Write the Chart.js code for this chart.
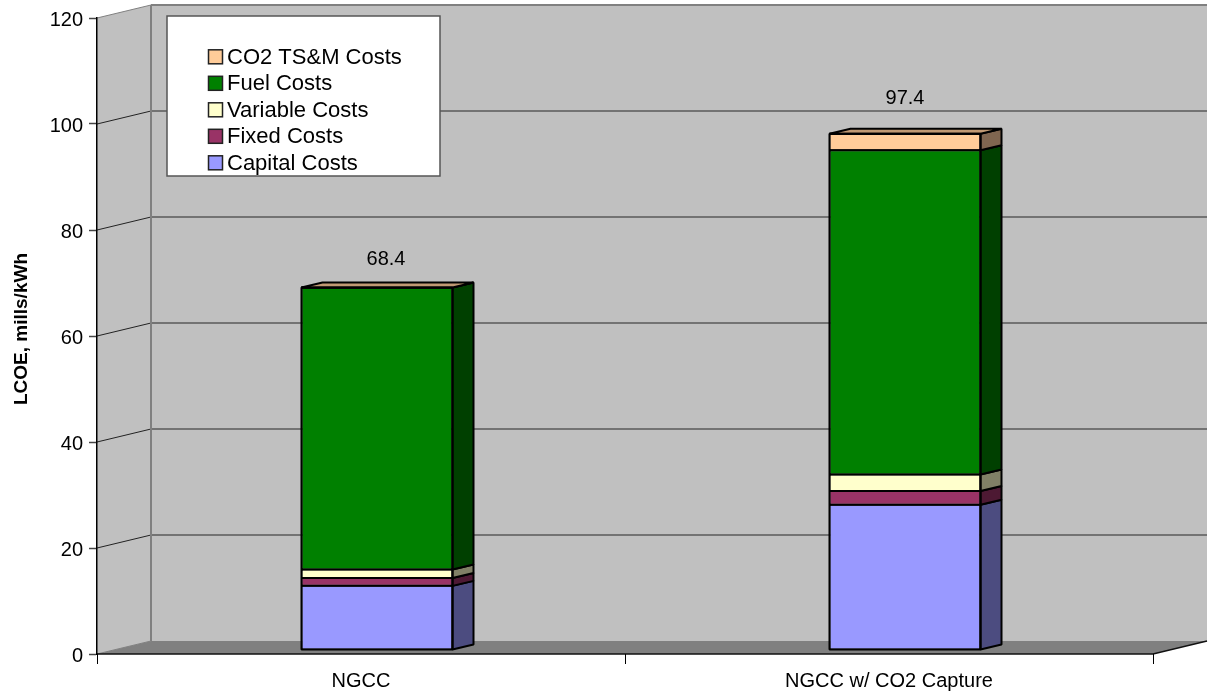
<!DOCTYPE html>
<html>
<head>
<meta charset="utf-8">
<style>
  html, body { margin: 0; padding: 0; background: #fff; }
  canvas { display: block; }
</style>
<script src="https://cdn.jsdelivr.net/npm/chart.js@4"></script>
</head>
<body>
<canvas id="myChart" width="1208" height="694"></canvas>
<script>
const categories = ["NGCC", "NGCC w/ CO2 Capture"];
const capitalCosts = [12.1, 27.4];
const fixedCosts = [1.5, 2.6];
const variableCosts = [1.6, 3.1];
const fuelCosts = [53.2, 61.2];
const co2Costs = [0, 3.1];
const totals = [68.4, 97.4];

const seriesNames = ["Capital Costs", "Fixed Costs", "Variable Costs", "Fuel Costs", "CO2 TS&M Costs"];
const seriesValues = [capitalCosts, fixedCosts, variableCosts, fuelCosts, co2Costs];
const frontColors = ["#9999FF", "#993366", "#FFFFCC", "#008000", "#FFCC99"];
const sideColors = ["#4C4C80", "#4D1933", "#808066", "#004000", "#806650"];
const topColor = "#C09973";

const FONT = '"Liberation Sans", Arial, sans-serif';

// depth of the box and of the bars, in pixels
const wallDx = 54, wallDy = -13;
const barShiftX = 16, barShiftY = -4;
const barDx = 21, barDy = -5;

const walls = {
  id: "walls",
  beforeDraw(chart) {
    const ctx = chart.ctx;
    const y = chart.scales.y;
    const a = chart.chartArea;
    const top = y.getPixelForValue(120), bottom = y.getPixelForValue(0);

    ctx.save();
    // back wall
    ctx.fillStyle = "#C0C0C0";
    ctx.fillRect(a.left + wallDx, top + wallDy, a.right - a.left, bottom - top);
    // left wall
    ctx.beginPath();
    ctx.moveTo(a.left, top);
    ctx.lineTo(a.left + wallDx, top + wallDy);
    ctx.lineTo(a.left + wallDx, bottom + wallDy);
    ctx.lineTo(a.left, bottom);
    ctx.closePath();
    ctx.fill();
    // floor
    ctx.fillStyle = "#808080";
    ctx.beginPath();
    ctx.moveTo(a.left, bottom);
    ctx.lineTo(a.left + wallDx, bottom + wallDy);
    ctx.lineTo(a.right + wallDx, bottom + wallDy);
    ctx.lineTo(a.right, bottom);
    ctx.closePath();
    ctx.fill();

    // grid lines, on both walls
    y.ticks.forEach((t) => {
      const py = y.getPixelForValue(t.value);
      ctx.strokeStyle = t.value > 0 && t.value < 120 ? "#222" : "#808080";
      ctx.lineWidth = 1;
      ctx.beginPath();
      ctx.moveTo(a.left, py);
      ctx.lineTo(a.left + wallDx, py + wallDy);
      ctx.stroke();
      if (t.value > 0) {
        ctx.strokeStyle = "#5A5A5A";
        ctx.lineWidth = 1.5;
        ctx.beginPath();
        ctx.moveTo(a.left + wallDx, py + wallDy);
        ctx.lineTo(a.right + wallDx, py + wallDy);
        ctx.stroke();
      }
    });

    // wall edges
    ctx.strokeStyle = "#808080";
    ctx.lineWidth = 2;
    ctx.beginPath();
    ctx.moveTo(a.left + wallDx, top + wallDy);
    ctx.lineTo(a.right + wallDx, top + wallDy);
    ctx.moveTo(a.left + wallDx, top + wallDy);
    ctx.lineTo(a.left + wallDx, bottom + wallDy);
    ctx.stroke();

    // front edge of the floor
    ctx.strokeStyle = "#111";
    ctx.lineWidth = 1.5;
    ctx.beginPath();
    ctx.moveTo(a.left, bottom);
    ctx.lineTo(a.right, bottom);
    ctx.lineTo(a.right + wallDx, bottom + wallDy);
    ctx.stroke();
    ctx.restore();

    drawLegend(ctx);
    drawYTitle(ctx);
  },
  beforeDatasetsDraw(chart) {
    chart.ctx.save();
    chart.ctx.translate(barShiftX, barShiftY);
  },
  afterDatasetsDraw(chart) {
    const ctx = chart.ctx;
    ctx.strokeStyle = "#000";
    ctx.lineWidth = 2;
    ctx.lineJoin = "bevel";
    const last = seriesValues.length - 1;

    categories.forEach((c, j) => {
      seriesValues.forEach((v, i) => {
        const bar = chart.getDatasetMeta(i).data[j];
        const l = bar.x - bar.width / 2, r = bar.x + bar.width / 2;
        ctx.fillStyle = sideColors[i];
        ctx.beginPath();
        ctx.moveTo(r, bar.y);
        ctx.lineTo(r + barDx, bar.y + barDy);
        ctx.lineTo(r + barDx, bar.base + barDy);
        ctx.lineTo(r, bar.base);
        ctx.closePath();
        ctx.fill();
        ctx.stroke();
        // seam on the front face
        ctx.beginPath();
        ctx.moveTo(l, bar.y);
        ctx.lineTo(r, bar.y);
        ctx.stroke();
      });

      const topBar = chart.getDatasetMeta(last).data[j];
      const l = topBar.x - topBar.width / 2, r = topBar.x + topBar.width / 2;
      ctx.fillStyle = topColor;
      ctx.beginPath();
      ctx.moveTo(l, topBar.y);
      ctx.lineTo(l + barDx, topBar.y + barDy);
      ctx.lineTo(r + barDx, topBar.y + barDy);
      ctx.lineTo(r, topBar.y);
      ctx.closePath();
      ctx.fill();
      ctx.stroke();

      // outline of the whole stack
      const base = chart.getDatasetMeta(0).data[j].base;
      ctx.strokeRect(l, topBar.y, r - l, base - topBar.y);
    });
    ctx.restore();

    // totals above the bars
    ctx.save();
    ctx.fillStyle = "#000";
    ctx.font = "20px " + FONT;
    ctx.textAlign = "center";
    ctx.textBaseline = "middle";
    const labelDx = [9, 0], labelDy = [-28, -35];
    totals.forEach((t, j) => {
      const topBar = chart.getDatasetMeta(last).data[j];
      ctx.fillText(t.toFixed(1), topBar.x + barShiftX + labelDx[j], topBar.y + barShiftY + labelDy[j]);
    });
    ctx.restore();
  },
};

function drawLegend(ctx) {
  ctx.save();
  ctx.fillStyle = "#fff";
  ctx.fillRect(167, 16, 273, 160);
  ctx.strokeStyle = "#555";
  ctx.lineWidth = 1.5;
  ctx.strokeRect(167, 16, 273, 160);

  ctx.font = "22px " + FONT;
  ctx.textBaseline = "middle";
  ctx.textAlign = "left";
  for (let i = seriesNames.length - 1, row = 0; i >= 0; i--, row++) {
    const cy = 56.8 + row * 26.5;
    ctx.fillStyle = frontColors[i];
    ctx.fillRect(208.5, cy - 7, 14, 14);
    ctx.strokeStyle = "#222";
    ctx.lineWidth = 1.5;
    ctx.strokeRect(208.5, cy - 7, 14, 14);
    ctx.fillStyle = "#000";
    ctx.fillText(seriesNames[i], 227, cy + 1);
  }
  ctx.restore();
}

function drawYTitle(ctx) {
  ctx.save();
  ctx.translate(22, 329);
  ctx.rotate(-Math.PI / 2);
  ctx.fillStyle = "#000";
  ctx.font = "bold 19px " + FONT;
  ctx.textAlign = "center";
  ctx.textBaseline = "middle";
  ctx.fillText("LCOE, mills/kWh", 0, 0);
  ctx.restore();
}

new Chart(document.getElementById("myChart").getContext("2d"), {
  type: "bar",
  data: {
    labels: categories,
    datasets: seriesNames.map((name, i) => ({
      label: name,
      data: seriesValues[i],
      backgroundColor: frontColors[i],
      borderColor: "#000",
      borderWidth: 1,
      borderSkipped: false,
      barPercentage: 0.286,
      categoryPercentage: 1,
      clip: false,
    })),
  },
  options: {
    responsive: false,
    animation: false,
    layout: { padding: { left: 0, right: 55, top: 18, bottom: 0 } },
    plugins: { legend: { display: false }, tooltip: { enabled: false } },
    scales: {
      x: {
        stacked: true,
        afterFit(scale) { scale.height = 40; },
        border: { display: false },
        grid: { drawOnChartArea: false, tickLength: 10, tickColor: "#000", tickWidth: 1 },
        ticks: { color: "#000", font: { family: FONT, size: 20 }, padding: 5, maxRotation: 0 },
      },
      y: {
        stacked: true,
        min: 0,
        max: 120,
        afterFit(scale) { scale.width = 97; },
        border: { display: true, color: "#000", width: 1.5 },
        grid: { drawOnChartArea: false, tickLength: 8, tickColor: "#444", tickWidth: 1.5 },
        ticks: { stepSize: 20, color: "#000", font: { family: FONT, size: 20 }, padding: 6, labelOffset: 2 },
      },
    },
  },
  plugins: [walls],
});
</script>
</body>
</html>
